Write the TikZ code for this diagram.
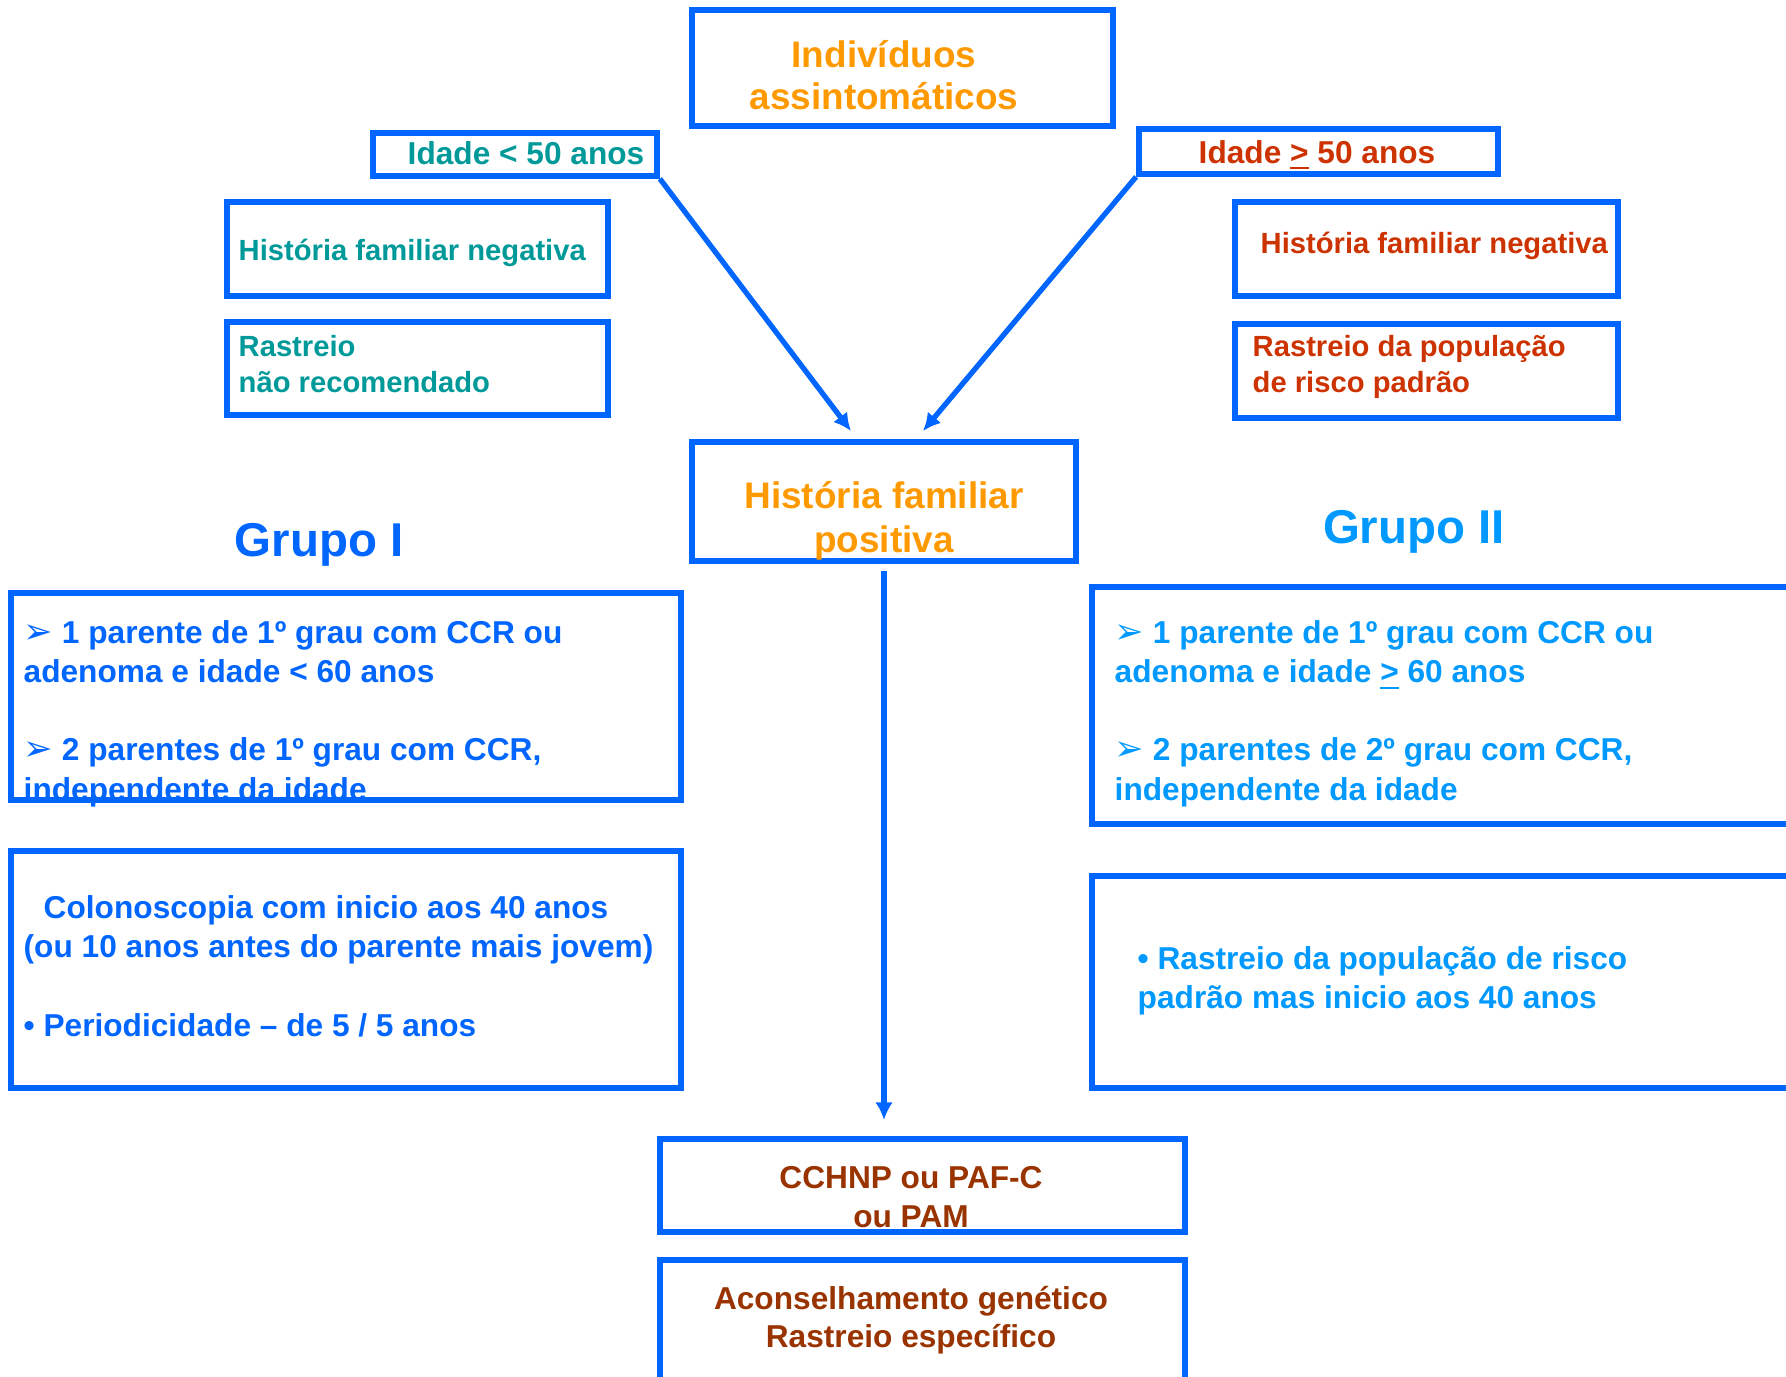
\documentclass[tikz,border=0pt]{standalone}
\usepackage{fontspec}
\setmainfont{Liberation Sans}
\newfontfamily\dingfont{DejaVu Sans}
\usepackage{xcolor}
\usetikzlibrary{arrows.meta}
\definecolor{boxblue}{HTML}{0066FF}
\definecolor{orangetxt}{HTML}{FF9900}
\definecolor{tealtxt}{HTML}{009999}
\definecolor{redtxt}{HTML}{CC3300}
\definecolor{grpone}{HTML}{0066FF}
\definecolor{grptwo}{HTML}{0099FF}
\definecolor{browntxt}{HTML}{993300}
\newcommand{\arrbullet}{{\dingfont\fontsize{10}{10}\selectfont ➢}}

\begin{document}
\begin{tikzpicture}[x=0.01cm,y=-0.01cm,
  box/.style={draw=boxblue,line width=1.6pt,rectangle,inner sep=0pt},
  lbl/.style={font=\bfseries,align=left,inner sep=0pt,anchor=base west},
  mid/.style={font=\bfseries,align=center,inner sep=0pt,anchor=base},
  arr/.style={boxblue,line width=1.5pt,-{Latex[length=5pt,width=5pt]}}]
\useasboundingbox (0,0) rectangle (1786,1376);
% boxes
\node[box,minimum width=4.21cm,minimum height=1.16cm] (top) at (902.5,68) {};
\node[box,minimum width=2.84cm,minimum height=0.43cm] (ageL) at (515,154.5) {};
\node[box,minimum width=3.59cm,minimum height=0.45cm] (ageR) at (1318.5,151.5) {};
\node[box,minimum width=3.81cm,minimum height=0.94cm] (negL) at (417.5,249) {};
\node[box,minimum width=3.81cm,minimum height=0.93cm] (rastL) at (417.5,368.5) {};
\node[box,minimum width=3.83cm,minimum height=0.94cm] (negR) at (1426.5,249) {};
\node[box,minimum width=3.83cm,minimum height=0.94cm] (rastR) at (1426.5,371) {};
\node[box,minimum width=3.84cm,minimum height=1.19cm] (pos) at (884,501.5) {};
\node[box,minimum width=6.70cm,minimum height=2.07cm] (grpI) at (346,696.5) {};
\node[box,minimum width=6.70cm,minimum height=2.37cm] (condI) at (346,969.5) {};
\node[box,minimum width=7.08cm,minimum height=2.37cm] (grpII) at (1446,705.5) {};
\node[box,minimum width=7.08cm,minimum height=2.12cm] (condII) at (1446,982) {};
\node[box,minimum width=5.25cm,minimum height=0.93cm] (cchnp) at (922.5,1185.5) {};
\node[box,minimum width=5.25cm,minimum height=1.40cm] (acons) at (922.5,1330) {};

% texts (multi-line ones sit on their last baseline)
\node[mid,orangetxt,font=\bfseries\fontsize{10.5}{12}\selectfont] (topT) at (884,110) {Indivíduos\\assintomáticos};
\node[lbl,tealtxt,font=\bfseries\fontsize{9}{11}\selectfont] (ageLT) at (407,165) {Idade < 50 anos};
\node[lbl,redtxt,font=\bfseries\fontsize{9}{11}\selectfont] (ageRT) at (1198,163) {Idade \underline{>} 50 anos};
\node[lbl,tealtxt,font=\bfseries\fontsize{8.3}{10}\selectfont] (negLT) at (238,260) {História familiar negativa};
\node[lbl,tealtxt,font=\bfseries\fontsize{8.3}{10}\selectfont] (rastLT) at (238,392) {Rastreio\\não recomendado};
\node[lbl,redtxt,font=\bfseries\fontsize{8.3}{10}\selectfont] (negRT) at (1260,253) {História familiar negativa};
\node[lbl,redtxt,font=\bfseries\fontsize{8.3}{10}\selectfont] (rastRT) at (1252,392) {Rastreio da população\\de risco padrão};
\node[mid,orangetxt,font=\bfseries\fontsize{10.5}{12.5}\selectfont] (posT) at (884,552) {História familiar\\positiva};

\node[mid,grpone,font=\bfseries\fontsize{13.5}{16}\selectfont] (grpIT) at (319,556) {Grupo I};
\node[mid,grptwo,font=\bfseries\fontsize{13.5}{16}\selectfont] (grpIIT) at (1414,543) {Grupo II};

\node[lbl,grpone,font=\bfseries\fontsize{9}{11.1}\selectfont] (grpIL) at (23,800)
  {\arrbullet\ 1 parente de 1º grau com CCR ou\\adenoma e idade < 60 anos\\[11.1pt]
   \arrbullet\ 2 parentes de 1º grau com CCR,\\independente da idade};
\node[lbl,grpone,font=\bfseries\fontsize{9}{11.1}\selectfont] (condIL) at (23,1036)
  {\hspace*{5.7pt}Colonoscopia com inicio aos 40 anos\\(ou 10 anos antes do parente mais jovem)\\[11.1pt]
   • Periodicidade – de 5 / 5 anos};
\node[lbl,grptwo,font=\bfseries\fontsize{9}{11.1}\selectfont] (grpIIL) at (1114,800)
  {\arrbullet\ 1 parente de 1º grau com CCR ou\\adenoma e idade \underline{>} 60 anos\\[11.1pt]
   \arrbullet\ 2 parentes de 2º grau com CCR,\\independente da idade};
\node[lbl,grptwo,font=\bfseries\fontsize{9}{11}\selectfont] (condIIL) at (1137,1008)
  {• Rastreio da população de risco\\padrão mas inicio aos 40 anos};

\node[mid,browntxt,font=\bfseries\fontsize{9}{11}\selectfont] (cchnpT) at (911,1227) {CCHNP ou PAF-C\\ou PAM};
\node[mid,browntxt,font=\bfseries\fontsize{9}{10.6}\selectfont] (aconsT) at (911,1347) {Aconselhamento genético\\Rastreio específico};

% connectors
\coordinate (tipL) at (851,431);
\coordinate (tipR) at (923,431);
\coordinate (tipD) at (884,1120);
\draw[arr] (ageL.south east) -- (tipL);
\draw[arr] (ageR.south west) -- (tipR);
\draw[arr,shorten <=0.07cm] (pos.south) -- (pos.south |- tipD);
\end{tikzpicture}
\end{document}
